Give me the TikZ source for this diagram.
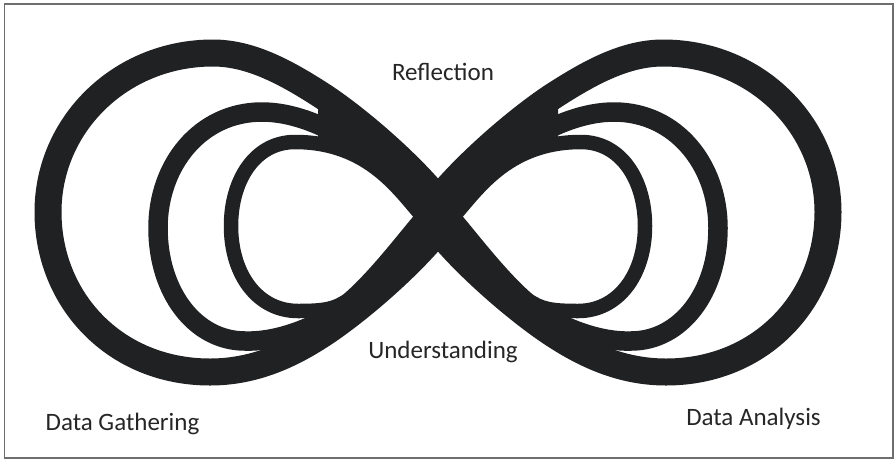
\documentclass[tikz,border=0pt]{standalone}
\usepackage{fontspec}
\setmainfont{Carlito}
\definecolor{ink}{RGB}{32,33,34}
\definecolor{txt}{RGB}{38,38,38}
\definecolor{frame}{RGB}{110,110,110}
\tikzset{
  band/.style={draw=ink, line cap=butt, line join=round},
  outerband/.style={band, line width=27pt},
  midband/.style={band, line width=19.5pt},
  innerband/.style={band, line width=14.5pt},
  core/.style={fill=ink},
  lbl/.style={font=\fontsize{25}{30}\selectfont, text=txt, inner sep=0pt, anchor=base},
  lobes/.pic={
    % outer lobe
    \draw[outerband] (432,192) .. controls (400,155) and (350,113) .. (318,93)
      .. controls (285,72) and (250,53) .. (213,53)
      .. controls (120,53) and (48,125) .. (48,212)
      .. controls (48,300) and (115,372) .. (210,372)
      .. controls (250,372) and (285,358) .. (318,337)
      .. controls (350,317) and (400,275) .. (432,238);
    % middle lobe
    \draw[midband] (425,205) .. controls (385,160) and (320,112) .. (262,112)
      .. controls (200,112) and (158,165) .. (158,228)
      .. controls (158,292) and (195,341) .. (245,341)
      .. controls (310,343) and (390,285) .. (425,228);
    % inner lobe
    \draw[innerband] (424,218) .. controls (400,192) and (370,142) .. (295,142)
      .. controls (255,142) and (231,180) .. (231,226)
      .. controls (231,275) and (258,311) .. (298,311)
      .. controls (325,311) and (335,309) .. (348,300)
      .. controls (375,277) and (405,237) .. (424,215);
    % merged arms
    \fill[core] (318,93) .. controls (350,113) and (400,155) .. (432,192)
      -- (438,200) -- (424,216) .. controls (400,190) and (370,143) .. (318,143) -- cycle;
    \fill[core] (318,337) .. controls (350,317) and (400,275) .. (432,238)
      -- (438,230) -- (424,216) .. controls (405,238) and (375,277) .. (348,300)
      -- (318,310) -- cycle;
  }
}
\begin{document}
\begin{tikzpicture}[x=1pt,y=-1pt]
  \useasboundingbox (0,0) rectangle (894,459);
  \fill[white] (0,0) rectangle (894,459);
  \draw[frame, line width=1.5pt] (4.5,4) rectangle (893,458);
  \coordinate (c) at (438,215);
  \pic at (0,0) {lobes};
  \pic[xscale=-1] at (876,0) {lobes};
  % crossing of the loops
  \fill[core] (438,179) -- (476,146) -- (496,179) -- (461,215) -- (485,248)
    -- (476,279) -- (438,251) -- (400,279) -- (391,248) -- (415,215)
    -- (380,179) -- (400,146) -- cycle;
  \node[lbl] (refl) at (443,80) {Reflection};
  \node[lbl] (und) at (443,358) {Understanding};
  \node[lbl] (gath) at (122.5,430) {Data Gathering};
  \node[lbl] (anal) at (753.5,425) {Data Analysis};
\end{tikzpicture}
\end{document}
